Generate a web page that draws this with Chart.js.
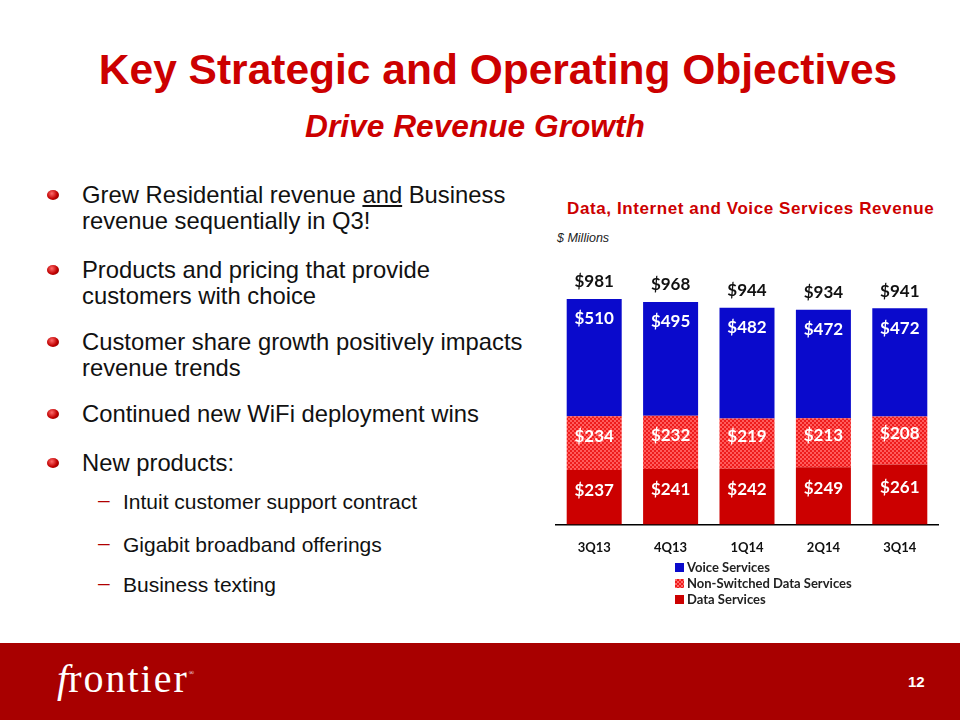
<!DOCTYPE html>
<html>
<head>
<meta charset="utf-8">
<script src="https://cdn.jsdelivr.net/npm/chart.js@4.4.0/dist/chart.umd.min.js"></script>
<style>
  body { margin: 0; width: 960px; height: 720px; background: #fff; position: relative; overflow: hidden; font-family: "Liberation Sans", Arial, sans-serif; }
  .title { position: absolute; left: 0; width: 996px; top: 46px; text-align: center; color: #cc0000; font-weight: bold; font-size: 42.5px; white-space: nowrap; }
  .subtitle { position: absolute; left: 0; width: 950px; top: 108px; text-align: center; color: #cc0000; font-weight: bold; font-style: italic; font-size: 31.7px; white-space: nowrap; }
  .b { position: absolute; left: 82px; font-size: 23.8px; color: #111; line-height: 26px; white-space: nowrap; }
  .b::before { content: ""; position: absolute; left: -35px; top: 8px; width: 12px; height: 10px; border-radius: 50%;
    background: radial-gradient(circle at 40% 35%, #ff6a6a 0%, #c00000 55%, #700000 100%); }
  .s { position: absolute; left: 123px; font-size: 21px; line-height: 24px; color: #111; white-space: nowrap; }
  .s::before { content: "\2013"; position: absolute; left: -25px; top: -2px; font-size: 21px; color: #b00000; }
  .ctitle { position: absolute; left: 567px; top: 199px; color: #cc0000; font-weight: bold; font-size: 17px; letter-spacing: 0.6px; white-space: nowrap; }
  .units { position: absolute; left: 557px; top: 231px; font-style: italic; font-size: 12.5px; color: #222; }
  #wrap { position: absolute; left: 540px; top: 270px; width: 410px; height: 310px; }
  #legend { position: absolute; left: 675px; top: 559px; font-family: Lato, "Open Sans", sans-serif; font-weight: bold; font-size: 13px; color: #222; }
  #legend div { height: 16px; line-height: 16px; position: relative; padding-left: 12px; white-space: nowrap; }
  #legend span { position: absolute; left: 0; top: 4px; width: 9px; height: 9px; }
  .footer { position: absolute; left: 0; top: 643px; width: 960px; height: 77px; background: #a80000; }
  .logo { position: absolute; left: 57px; top: 655px; color: #fff; font-family: "Liberation Serif", "DejaVu Serif", serif; font-size: 40px; letter-spacing: 2px; }
  .logo i { letter-spacing: 0; }
  .logo sup { font-size: 7px; vertical-align: top; position: relative; top: 14px; }
  .page { position: absolute; left: 908px; top: 673px; color: #fff; font-weight: bold; font-size: 15px; }
</style>
</head>
<body>
<div class="title">Key Strategic and Operating Objectives</div>
<div class="subtitle">Drive Revenue Growth</div>

<div class="b" style="top:182px">Grew Residential revenue <u>and</u> Business<br>revenue sequentially in Q3!</div>
<div class="b" style="top:257px">Products and pricing that provide<br>customers with choice</div>
<div class="b" style="top:329px">Customer share growth positively impacts<br>revenue trends</div>
<div class="b" style="top:401px">Continued new WiFi deployment wins</div>
<div class="b" style="top:450px">New products:</div>
<div class="s" style="top:490px">Intuit customer support contract</div>
<div class="s" style="top:533px">Gigabit broadband offerings</div>
<div class="s" style="top:573px">Business texting</div>

<div class="ctitle">Data, Internet and Voice Services Revenue</div>
<div class="units">$ Millions</div>
<div id="wrap"><canvas id="chart"></canvas></div>
<div id="legend"></div>

<div class="footer"></div>
<div class="logo"><i>f</i>rontier<sup>®</sup></div>
<div class="page">12</div>

<script>
const quarters = ['3Q13', '4Q13', '1Q14', '2Q14', '3Q14'];
const dataServices = [237, 241, 242, 249, 261];
const nonSwitched = [234, 232, 219, 213, 208];
const voiceServices = [510, 495, 482, 472, 472];
const totals = [981, 968, 944, 934, 941];

function makePattern() {
    const c = document.createElement('canvas');
    c.width = 4;
    c.height = 4;
    const g = c.getContext('2d');
    g.fillStyle = '#ee1c1c';
    g.fillRect(0, 0, 4, 4);
    g.fillStyle = '#ff5c5c';
    g.fillRect(0, 0, 2, 2);
    g.fillRect(2, 2, 2, 2);
    return g.createPattern(c, 'repeat');
}

const ctx = document.getElementById('chart');
const pattern = makePattern();

const datasets = [
    { label: 'Data Services', data: dataServices, backgroundColor: '#cc0000' },
    { label: 'Non-Switched Data Services', data: nonSwitched, backgroundColor: pattern },
    { label: 'Voice Services', data: voiceServices, backgroundColor: '#0a0acc' },
];

// legend, voice first like the slide
const legendColors = ['#0a0acc', 'repeating-conic-gradient(#ee1c1c 0 25%, #ff6a6a 0 50%) 0 0/4px 4px', '#cc0000'];
const legendNames = ['Voice Services', 'Non-Switched Data Services', 'Data Services'];
document.getElementById('legend').innerHTML = legendNames.map((n, i) =>
    '<div><span style="background:' + legendColors[i] + '"></span>' + n + '</div>').join('');

const labelPlugin = {
    id: 'labels',
    afterDatasetsDraw(chart) {
        const c = chart.ctx;
        c.save();
        c.textAlign = 'center';
        c.textBaseline = 'middle';
        c.font = 'bold 17px Lato, "Open Sans", sans-serif';
        chart.data.datasets.forEach((ds, di) => {
            chart.getDatasetMeta(di).data.forEach((bar, i) => {
                c.fillStyle = '#fff';
                let y = (bar.y + bar.base) / 2 - 7;
                if (di === 2) y = bar.y + 20;
                c.fillText('$' + ds.data[i], bar.x, y);
                if (di === 2) {
                    c.fillStyle = '#111';
                    c.fillText('$' + totals[i], bar.x, bar.y - 17);
                }
            });
        });
        c.restore();
    }
};

new Chart(ctx, {
    type: 'bar',
    data: { labels: quarters, datasets: datasets },
    options: {
        responsive: true,
        maintainAspectRatio: false,
        animation: false,
        datasets: { bar: { categoryPercentage: 1, barPercentage: 0.72 } },
        layout: { padding: { left: 16, right: 12, top: 0, bottom: 8 } },
        plugins: { legend: { display: false }, tooltip: { enabled: false } },
        scales: {
            x: {
                stacked: true,
                grid: { display: false, drawTicks: false },
                border: { color: '#000', width: 1.5 },
                ticks: { color: '#111', padding: 16, font: { family: 'Lato, "Open Sans", sans-serif', weight: 'bold', size: 13 } }
            },
            y: { stacked: true, display: false, min: 0, max: 1107 }
        }
    },
    plugins: [labelPlugin]
});
</script>
</body>
</html>
